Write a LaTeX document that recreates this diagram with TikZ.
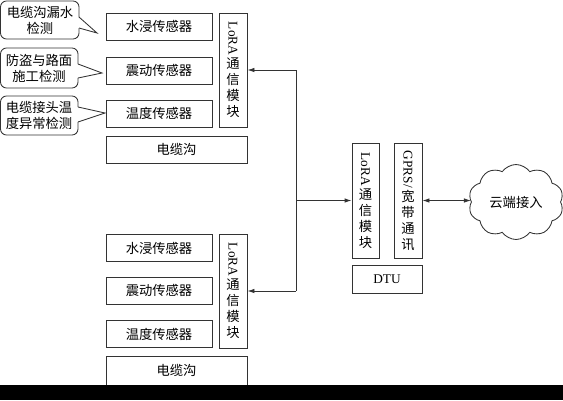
\documentclass[tikz,border=0pt]{standalone}
\usepackage{fontspec}
\usepackage{graphicx}
\setmainfont{Liberation Serif}
\newfontfamily\cjk{Noto Sans CJK SC}
\usetikzlibrary{arrows.meta,shapes.symbols}
\begin{document}
\begin{tikzpicture}[x=1pt,y=-1pt,
  ln/.style={draw=black!80, line width=0.85pt},
  fnt/.style={font=\cjk\fontsize{13.3}{16}\selectfont},
  box/.style={ln, inner sep=0pt, align=center, fnt},
  sensor/.style={box, minimum width=106pt, minimum height=27pt},
  vbox/.style={box, minimum width=28pt, minimum height=114pt},
  txt/.style={inner sep=0pt, align=center, fnt},
  arr/.style={ln, -{Latex[length=7pt,width=4.5pt]}},
  darr/.style={ln, {Latex[length=7pt,width=4.5pt]}-{Latex[length=7pt,width=4.5pt]}},
  callout/.style={ln, rounded corners=6pt}
]
\useasboundingbox (0,0) rectangle (563,400);

% callouts
\draw[callout] (0.5,1) rectangle (79,39);
\fill[white] (78,17) -- (97,33) -- (78,28) -- cycle;
\draw[ln] (79,17) -- (97,33) -- (79,28);
\node[txt] (c1) at (40,20) {电缆沟漏水\\检测};

\draw[callout] (0.5,48) rectangle (78,88);
\fill[white] (77,64) -- (102,73) -- (77,78) -- cycle;
\draw[ln] (78,64) -- (102,73) -- (78,78);
\node[txt] (c2) at (39,68) {防盗与路面\\施工检测};

\draw[callout] (0.5,96) rectangle (78,135);
\fill[white] (77,107) -- (105,113) -- (77,122) -- cycle;
\draw[ln] (78,107) -- (105,113) -- (78,122);
\node[txt] (c3) at (39,115.5) {电缆接头温\\度异常检测};

% top group
\node[sensor] (s1) at (159,26.5) {水浸传感器};
\node[sensor] (s2) at (159,70.5) {震动传感器};
\node[sensor] (s3) at (159,113.5) {温度传感器};
\node[vbox] (lora1) at (233,70) {\rotatebox{-90}{\rmfamily LoRA}\\[2pt]通\\信\\模\\块};
\node[box, minimum width=141pt, minimum height=27pt] (g1) at (176.5,149.5) {电缆沟};

% bottom group
\node[sensor] (t1) at (159,248) {水浸传感器};
\node[sensor] (t2) at (159,290.5) {震动传感器};
\node[sensor] (t3) at (159,334) {温度传感器};
\node[vbox] (lora2) at (233,291) {\rotatebox{-90}{\rmfamily LoRA}\\[2pt]通\\信\\模\\块};
\node[box, minimum width=141pt, minimum height=29pt] (g2) at (176.5,370.5) {电缆沟};

% DTU
\node[vbox, minimum width=27pt, minimum height=115pt] (dlora) at (365.5,200.5) {\rotatebox{-90}{\rmfamily LoRA}\\[2pt]通\\信\\模\\块};
\node[vbox, minimum width=28pt, minimum height=115pt] (gprs) at (408,200.5) {\rotatebox{-90}{\rmfamily GPRS/}\\[1pt]宽\\带\\通\\讯};
\node[box, font=\rmfamily\fontsize{13.3}{16}\selectfont, minimum width=70pt, minimum height=28pt] (dtu) at (387,279) {DTU};

% cloud
\node[cloud, ln, cloud puffs=10, cloud puff arc=110, cloud ignores aspect, minimum width=95pt, minimum height=75pt, inner sep=0pt, fnt] (cloud) at (516,202) {云端接入};

% connectors
\coordinate (bt) at (296,70);
\coordinate (bb) at (296,291);
\draw[ln] (bt) -- (bb);
\draw[arr] (bt) -- (lora1.east);
\draw[arr] (bb) -- (lora2.east);
\draw[arr] (bt |- dlora.west) -- (dlora.west);
\draw[darr] (gprs.east) -- (gprs.east -| cloud.west);

% bottom bar
\fill[black] (0,385) rectangle (563,400);
\end{tikzpicture}
\end{document}
